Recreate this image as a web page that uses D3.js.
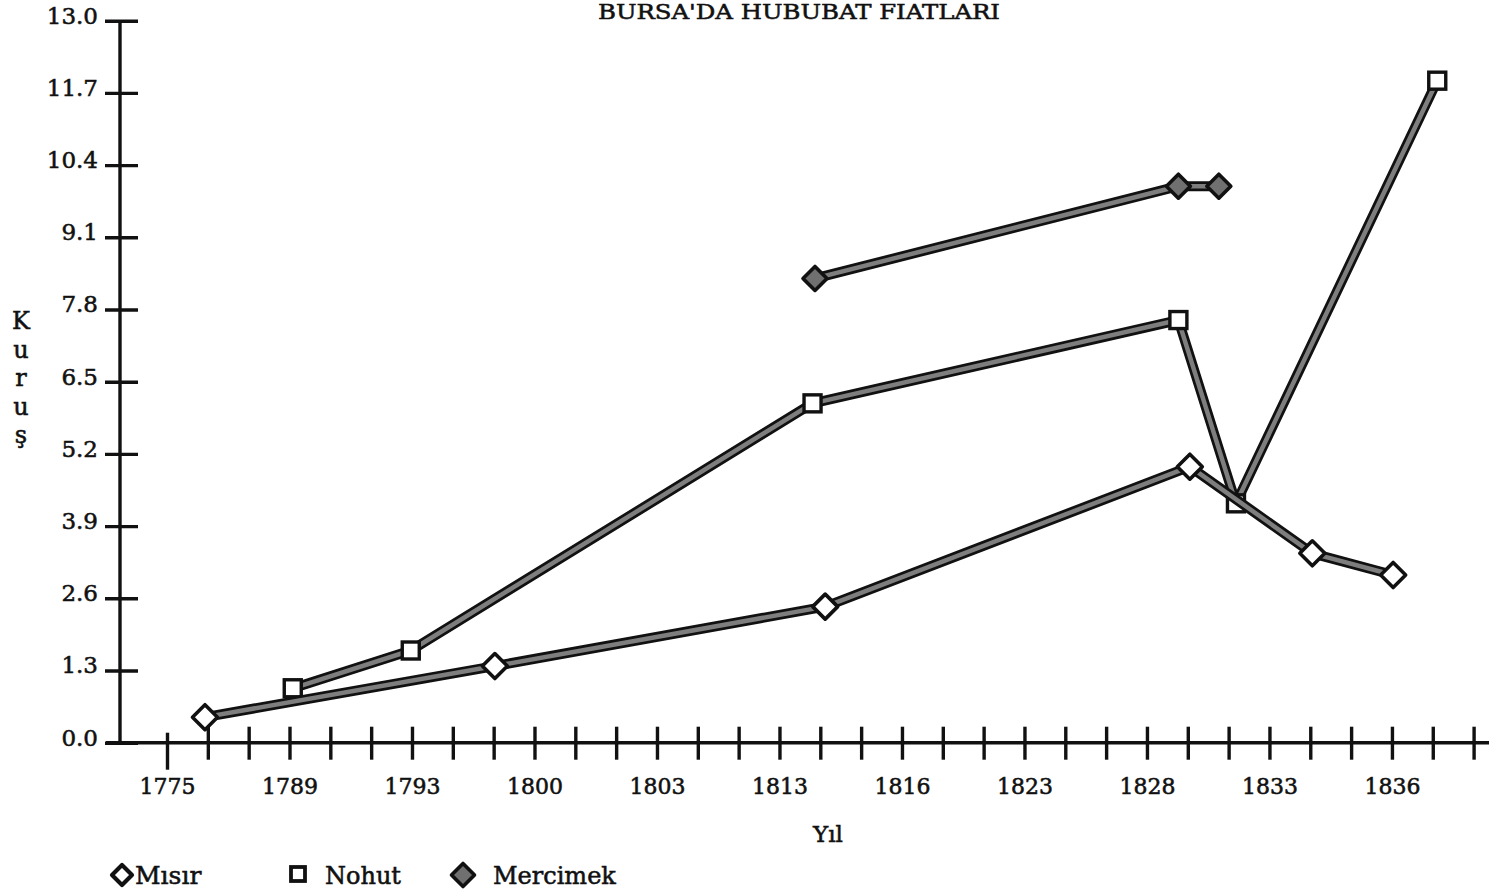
<!DOCTYPE html>
<html>
<head>
<meta charset="utf-8">
<script src="https://cdn.jsdelivr.net/npm/d3@7"></script>
<style>
  html, body { margin: 0; padding: 0; background: #fff; }
  svg { display: block; }
  text { font-family: "DejaVu Serif", serif; fill: #111; stroke: #111; stroke-width: 0.55px; }
</style>
</head>
<body>
<div class="graph"></div>
<script>
// x slots: one tick per slot, a year label on every third slot
const slotCount = 33
const xLabels = ["1775", "1789", "1793", "1800", "1803", "1813", "1816", "1823", "1828", "1833", "1836"]
const yTicks = [0.0, 1.3, 2.6, 3.9, 5.2, 6.5, 7.8, 9.1, 10.4, 11.7, 13.0]

// values (slot position, kurus)
const misirX = [0.93, 8.03, 16.12, 25.05, 28.05, 30.03]
const misirY = [0.46, 1.38, 2.45, 4.97, 3.41, 3.02]
const nohutX = [3.08, 5.97, 15.81, 24.77, 26.18, 31.11]
const nohutY = [0.98, 1.66, 6.11, 7.61, 4.31, 11.92]
const mercimekX = [15.87, 24.77, 25.76]
const mercimekY = [8.36, 10.02, 10.02]

const seriesNames = ["Mısır", "Nohut", "Mercimek"]

const width = 1498
const height = 895

const svg = d3.select(".graph")
  .append("svg")
  .attr("width", width)
  .attr("height", height)

const x = d3.scaleLinear()
  .domain([0, slotCount - 1])
  .range([167, 1473.6])

const y = d3.scaleLinear()
  .domain([0, 13])
  .range([742.7, 20.7])

// title
svg.append("text")
  .attr("x", 799)
  .attr("y", 19)
  .attr("text-anchor", "middle")
  .attr("font-size", 21)
  .attr("textLength", 402)
  .attr("lengthAdjust", "spacingAndGlyphs")
  .text("BURSA'DA HUBUBAT FIATLARI")

// y axis
const yAxis = svg.append("g")
  .attr("transform", `translate(${120},0)`)
  .call(d3.axisLeft(y).tickValues(yTicks).tickFormat(d3.format(".1f")).tickSizeOuter(0))

yAxis.select(".domain")
  .attr("stroke", "#111")
  .attr("stroke-width", 3.4)
  .attr("d", `M0,${y(13)}V${y(0)}`)
yAxis.selectAll(".tick line")
  .attr("x1", -15)
  .attr("x2", 18)
  .attr("stroke", "#111")
  .attr("stroke-width", 3.4)
yAxis.selectAll(".tick text")
  .attr("x", -22)
  .attr("dy", "0.1em")
  .attr("font-size", 23)
  .attr("font-family", "DejaVu Serif")
  .attr("fill", "#111")

// x axis
const xAxis = svg.append("g")
  .attr("transform", `translate(0,${y(0)})`)
  .call(d3.axisBottom(x)
    .tickValues(d3.range(0, slotCount))
    .tickFormat(i => i % 3 === 0 ? xLabels[i / 3] : "")
    .tickSizeOuter(0))

xAxis.select(".domain")
  .attr("stroke", "#111")
  .attr("stroke-width", 3.4)
  .attr("d", "M106,0H1489")
xAxis.selectAll(".tick line")
  .attr("y1", d => d === 0 ? -10 : -16)
  .attr("y2", d => d === 0 ? 27 : 17)
  .attr("stroke", "#111")
  .attr("stroke-width", 3.4)
xAxis.selectAll(".tick text")
  .attr("y", 36)
  .attr("font-size", 22)
  .attr("font-family", "DejaVu Serif")
  .attr("fill", "#111")

// axis titles
svg.append("text")
  .attr("x", 828)
  .attr("y", 842)
  .attr("text-anchor", "middle")
  .attr("font-size", 23)
  .text("Yıl")

const yTitle = svg.append("text")
  .attr("font-size", 24)
  .attr("text-anchor", "middle")
"Kuruş".split("").forEach((ch, i) => {
  yTitle.append("tspan")
    .attr("x", 21)
    .attr("y", 329 + i * 28.5)
    .text(ch)
})

// series
const line = d3.line()
  .x(d => x(d[0]))
  .y(d => y(d[1]))

function drawLine(xs, ys) {
  const pts = xs.map((v, i) => [v, ys[i]])
  svg.append("path")
    .datum(pts)
    .attr("fill", "none")
    .attr("stroke", "#111")
    .attr("stroke-width", 10)
    .attr("stroke-linejoin", "round")
    .attr("stroke-linecap", "round")
    .attr("d", line)
  svg.append("path")
    .datum(pts)
    .attr("fill", "none")
    .attr("stroke", "#7e7e7e")
    .attr("stroke-width", 4.5)
    .attr("stroke-linejoin", "round")
    .attr("stroke-linecap", "round")
    .attr("d", line)
  return pts
}

function diamond(g, cx, cy, r, fill) {
  return g.append("path")
    .attr("d", `M${cx},${cy - r}L${cx + r},${cy}L${cx},${cy + r}L${cx - r},${cy}Z`)
    .attr("fill", fill)
    .attr("stroke", "#111")
    .attr("stroke-width", 3.6)
    .attr("stroke-linejoin", "round")
}

function square(g, cx, cy, s) {
  return g.append("rect")
    .attr("x", cx - s / 2)
    .attr("y", cy - s / 2)
    .attr("width", s)
    .attr("height", s)
    .attr("fill", "#fff")
    .attr("stroke", "#111")
    .attr("stroke-width", 3.4)
}

const nohutPts = drawLine(nohutX, nohutY)
nohutPts.forEach(d => square(svg, x(d[0]), y(d[1]), 17))

const mercimekPts = drawLine(mercimekX, mercimekY)
mercimekPts.forEach(d => diamond(svg, x(d[0]), y(d[1]), 12, "#707070"))

const misirPts = drawLine(misirX, misirY)
misirPts.forEach(d => diamond(svg, x(d[0]), y(d[1]), 12.5, "#fff"))

// legend
const legend = svg.append("g")
diamond(legend, 122, 875, 10, "#fff").attr("stroke-width", 4.2)
legend.append("text").attr("x", 135).attr("y", 884).attr("font-size", 25).text(seriesNames[0])
square(legend, 298, 874, 14).attr("stroke-width", 3.8)
legend.append("text").attr("x", 325).attr("y", 884).attr("font-size", 24).text(seriesNames[1])
diamond(legend, 463, 875, 11.5, "#707070")
legend.append("text").attr("x", 493).attr("y", 884).attr("font-size", 24).text(seriesNames[2])
</script>
</body>
</html>
